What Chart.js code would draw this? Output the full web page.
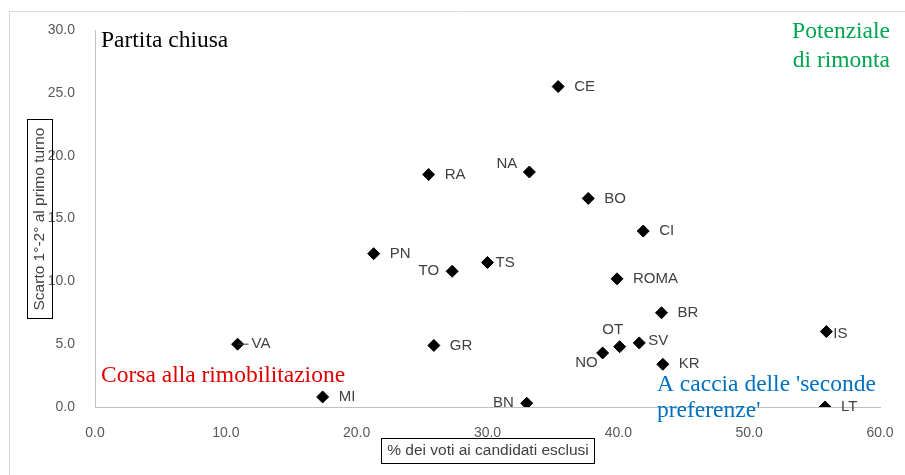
<!DOCTYPE html>
<html>
<head>
<meta charset="utf-8">
<script src="https://cdn.jsdelivr.net/npm/chart.js@4"></script>
<style>
  html, body { margin: 0; padding: 0; background: #fff; }
  #wrap { width: 905px; height: 475px; }
</style>
</head>
<body>
<div id="wrap"><canvas id="scatter" width="905" height="475"></canvas></div>
<script>
// --- DATA ---
const cities = ['CE', 'NA', 'RA', 'BO', 'CI', 'PN', 'TO', 'TS', 'ROMA', 'BR',
                'IS', 'SV', 'OT', 'NO', 'KR', 'GR', 'VA', 'MI', 'BN', 'LT'];
const votiEsclusi = [35.4, 33.2, 25.5, 37.7, 41.9, 21.3, 27.3, 30.0, 39.9, 43.3,
                     55.9, 41.6, 40.1, 38.8, 43.4, 25.9, 10.9, 17.4, 33.0, 55.8];
const scarto = [25.5, 18.7, 18.5, 16.6, 14.0, 12.2, 10.8, 11.5, 10.2, 7.5,
                6.0, 5.1, 4.8, 4.3, 3.4, 4.9, 5.0, 0.8, 0.3, 0.0];
const xTicks = [0, 10, 20, 30, 40, 50, 60];
const yTicks = [0, 5, 10, 15, 20, 25, 30];

// label placement (offset from the point)
const labelPlace = {
  NA: { dx: -12, dy: -8, align: 'right' },
  TO: { dx: -13, dy: 0, align: 'right' },
  TS: { dx: 8, dy: 0, align: 'left' },
  IS: { dx: 7, dy: 2, align: 'left' },
  SV: { dx: 9, dy: -2, align: 'left' },
  OT: { dx: -7, dy: -17, align: 'center' },
  NO: { dx: -5, dy: 10, align: 'right' },
  BN: { dx: -13, dy: 0, align: 'right' },
  VA: { dx: 14, dy: 0, align: 'left', leader: true }
};

const points = cities.map((c, i) => ({ x: votiEsclusi[i], y: scarto[i] }));

// --- PLUGIN: point labels, quadrant notes, boxed axis titles, frame ---
const decorations = {
  id: 'decorations',
  afterDatasetsDraw(chart) {
    const ctx = chart.ctx;
    const meta = chart.getDatasetMeta(0);
    ctx.save();
    ctx.font = '15px "Liberation Sans", Arial, sans-serif';
    ctx.fillStyle = '#404040';
    ctx.textBaseline = 'middle';
    meta.data.forEach((el, i) => {
      const name = cities[i];
      const p = labelPlace[name] || { dx: 16, dy: 0, align: 'left' };
      if (p.leader) {
        ctx.strokeStyle = '#404040';
        ctx.lineWidth = 1;
        ctx.beginPath();
        ctx.moveTo(el.x, el.y);
        ctx.lineTo(el.x + p.dx - 3, el.y);
        ctx.stroke();
      }
      ctx.textAlign = p.align;
      ctx.fillText(name, el.x + p.dx, el.y + p.dy);
    });
    ctx.restore();
  },
  afterDraw(chart) {
    const ctx = chart.ctx;
    const area = chart.chartArea;
    ctx.save();

    // light outer frame (top and left edges)
    ctx.strokeStyle = '#d9d9d9';
    ctx.lineWidth = 1;
    ctx.beginPath();
    ctx.moveTo(9.5, 475);
    ctx.lineTo(9.5, 11.5);
    ctx.lineTo(905, 11.5);
    ctx.stroke();

    // quadrant notes
    ctx.font = '23.5px "Liberation Serif", "DejaVu Serif", serif';
    ctx.textBaseline = 'alphabetic';
    ctx.textAlign = 'left';
    ctx.fillStyle = '#000000';
    ctx.fillText('Partita chiusa', area.left + 6, 47);
    ctx.fillStyle = '#e00000';
    ctx.fillText('Corsa alla rimobilitazione', area.left + 6, 382);
    ctx.fillStyle = '#0070c0';
    ctx.fillText("A caccia delle 'seconde", 657, 391);
    ctx.fillText("preferenze'", 657, 417);
    ctx.textAlign = 'right';
    ctx.fillStyle = '#00a550';
    ctx.fillText('Potenziale', 890, 38);
    ctx.fillText('di rimonta', 890, 67);

    // boxed axis titles
    ctx.font = '15.5px "Liberation Sans", Arial, sans-serif';
    ctx.fillStyle = '#404040';
    ctx.strokeStyle = '#000000';
    ctx.lineWidth = 1;
    ctx.textAlign = 'center';
    ctx.textBaseline = 'middle';
    ctx.strokeRect(381.5, 438.5, 213, 25);
    ctx.fillText('% dei voti ai candidati esclusi', 488, 451);

    ctx.strokeRect(27.5, 119.5, 25, 199);
    ctx.translate(40, 219);
    ctx.rotate(-Math.PI / 2);
    ctx.fillText('Scarto 1°-2° al primo turno', 0, 0);
    ctx.restore();
  }
};

// --- CHART ---
const ctx = document.getElementById('scatter').getContext('2d');
new Chart(ctx, {
  type: 'scatter',
  data: {
    datasets: [{
      data: points,
      pointStyle: 'rectRot',
      pointRadius: 6,
      pointHoverRadius: 6,
      backgroundColor: '#000000',
      borderColor: '#000000',
      borderWidth: 1
    }]
  },
  options: {
    responsive: false,
    animation: false,
    layout: { padding: { top: 30, right: 25, left: 0, bottom: 0 } },
    plugins: {
      legend: { display: false },
      tooltip: { enabled: false }
    },
    scales: {
      x: {
        type: 'linear',
        min: 0,
        max: 60,
        afterBuildTicks: (scale) => { scale.ticks = xTicks.map(v => ({ value: v })); },
        afterFit: (scale) => { scale.height = 68; },
        grid: { display: false },
        border: { display: true, color: '#bfbfbf', width: 1 },
        ticks: {
          padding: 10,
          color: '#595959',
          font: { family: '"Liberation Sans", Arial, sans-serif', size: 14 },
          maxRotation: 0,
          callback: (v) => Number(v).toFixed(1)
        }
      },
      y: {
        type: 'linear',
        min: 0,
        max: 30,
        afterBuildTicks: (scale) => { scale.ticks = yTicks.map(v => ({ value: v })); },
        afterFit: (scale) => { scale.width = 95; },
        grid: { display: false },
        border: { display: true, color: '#bfbfbf', width: 1 },
        ticks: {
          padding: 12,
          color: '#595959',
          font: { family: '"Liberation Sans", Arial, sans-serif', size: 14 },
          callback: (v) => Number(v).toFixed(1)
        }
      }
    }
  },
  plugins: [decorations]
});
</script>
</body>
</html>
